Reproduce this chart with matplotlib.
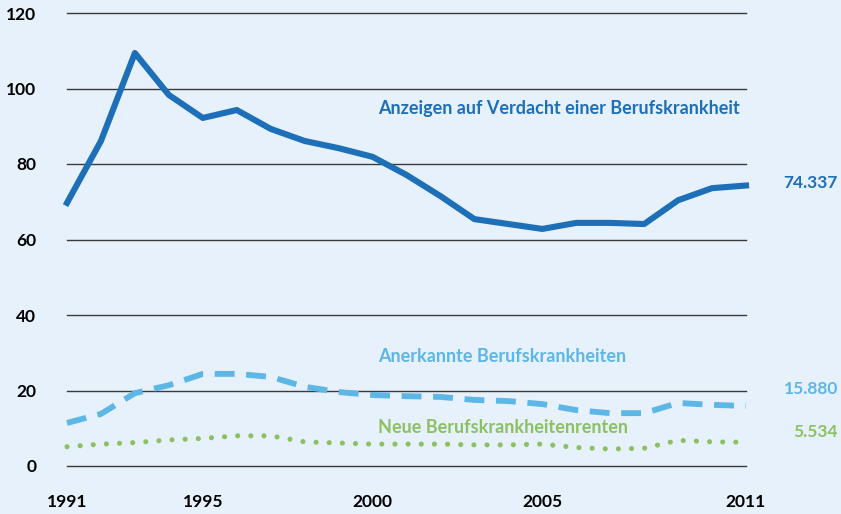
import matplotlib
matplotlib.use("Agg")
import matplotlib.pyplot as plt

years = list(range(1991, 2012))
anzeigen = [69.7, 86.1, 109.4, 98.3, 92.2, 94.3, 89.3, 86.1, 84.2, 81.9, 77.1,
            71.5, 65.4, 64.1, 62.8, 64.4, 64.4, 64.1, 70.4, 73.6, 74.3]
anerkannt = [11.4, 13.8, 19.3, 21.4, 24.4, 24.4, 23.6, 21.0, 19.6, 18.8, 18.5,
             18.3, 17.5, 17.2, 16.4, 14.8, 14.0, 14.0, 16.7, 16.2, 15.9]
renten = [5.1, 5.8, 6.2, 6.9, 7.3, 8.0, 8.0, 6.4, 6.1, 5.8, 5.8,
          5.8, 5.6, 5.6, 5.8, 4.9, 4.5, 4.7, 6.8, 6.4, 6.3]
x_ticks = [1991, 1995, 2000, 2005, 2011]
y_ticks = [0, 20, 40, 60, 80, 100, 120]
series_names = ["Anzeigen auf Verdacht einer Berufskrankheit",
                "Anerkannte Berufskrankheiten",
                "Neue Berufskrankheitenrenten"]
end_labels = ["74.337", "15.880", "5.534"]

plt.rcParams['font.family'] = ['Lato', 'DejaVu Sans']
bg = '#e6f1fb'
c_dark = '#1d6fb8'
c_light = '#5cb6e6'
c_green = '#8cc063'

fig = plt.figure(figsize=(8.41, 5.14), dpi=100, facecolor=bg)
ax = fig.add_axes([67/841, 1 - 466/514, (746 - 67)/841, (466 - 13)/514], facecolor=bg)
ax.set_xlim(1991, 2011)
ax.set_ylim(0, 120)
for s in ax.spines.values():
    s.set_visible(False)
for y in y_ticks:
    ax.axhline(y, color='#3a3a3a', lw=1.0, zorder=1, clip_on=False)

ax.plot(years, anzeigen, color=c_dark, lw=4.4, solid_joinstyle='round', zorder=3, clip_on=False)
ax.plot(years, anerkannt, color=c_light, lw=4.2, linestyle=(0, (3.4, 2.0)),
        dash_capstyle='butt', dash_joinstyle='round', zorder=3, clip_on=False)
ax.plot(years, renten, color=c_green, lw=3.7, linestyle=(0, (0.01, 2.55)),
        dash_capstyle='round', zorder=3, clip_on=False)

ax.set_xticks(x_ticks)
ax.set_xticklabels([str(v) for v in x_ticks])
ax.set_yticks(y_ticks)
ax.set_yticklabels([str(v) for v in y_ticks])
ax.tick_params(axis='both', length=0, labelsize=12.5, colors='black')
ax.tick_params(axis='y', pad=22)
ax.tick_params(axis='x', pad=20)
for lab in ax.get_xticklabels() + ax.get_yticklabels():
    lab.set_fontweight('bold')

lx = 2000.15
ax.text(lx, 94.8, series_names[0], color=c_dark, fontsize=13, fontweight='bold', va='center', ha='left')
ax.text(lx, 28.9, series_names[1], color=c_light, fontsize=13, fontweight='bold', va='center', ha='left')
ax.text(lx, 10.1, series_names[2], color=c_green, fontsize=13, fontweight='bold', va='center', ha='left')

rx = 838/841
for txt, yv, col in zip(end_labels, [75.0, 20.5, 9.0], [c_dark, c_light, c_green]):
    ypix = 466 - yv * (453 / 120)
    fig.text(rx, 1 - ypix/514, txt, color=col, fontsize=12.5, fontweight='bold', ha='right', va='center')

fig.savefig('out.png', dpi=100, facecolor=bg)
